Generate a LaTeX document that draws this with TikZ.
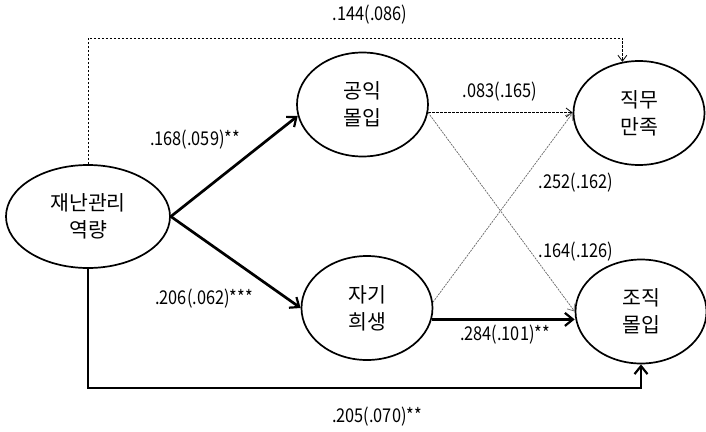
\documentclass[tikz,border=0pt]{standalone}
\usepackage{fontspec}
\setmainfont{Noto Sans CJK KR}
\newfontfamily\kr{Noto Sans CJK KR}
\newfontfamily\krnum[FakeStretch=0.86]{Noto Sans CJK KR}
\usetikzlibrary{shapes.geometric,arrows.meta}
\begin{document}
\begin{tikzpicture}[x=1pt,y=-1pt,
  latent/.style={draw,line width=1.7pt,ellipse,inner sep=0pt,minimum width=131pt,minimum height=104pt,align=center,font=\kr\fontsize{20.5}{27}\selectfont},
  coef/.style={inner sep=0pt,font=\krnum\fontsize{19}{22}\selectfont},
  strong/.style={line width=2.7pt,-{Straight Barb[length=8pt,width=13pt,line width=2.2pt]}},
  weakdash/.style={line width=0.8pt,dash pattern=on 2.5pt off 1.5pt,-{Straight Barb[length=6pt,width=9pt,line width=0.8pt]}},
  weakdiag/.style={line width=0.7pt,black!60,dash pattern=on 2pt off 1pt,-{Straight Barb[length=6pt,width=9pt,line width=0.7pt]}}]
\useasboundingbox (0,0) rectangle (706,431);
\node[latent,minimum width=164pt,minimum height=103pt] (A) at (88,216.5) {재난관리\\역량};
\node[latent] (B) at (362.5,104.5) {공익\\몰입};
\node[latent] (C) at (367,308) {자기\\희생};
\node[latent] (D) at (639,113) {직무\\만족};
\node[latent] (E) at (641,311.5) {조직\\몰입};
\coordinate (top) at (0,38);
\coordinate (bot) at (0,388);
% connectors
\draw[weakdash] (A.north) -- (A.north |- top) -| (D.108);
\draw[strong] (A.east) -- (B.190);
\draw[strong] (A.east) -- (C.west);
\draw[weakdash] (B.-7) -- (B.-7 -| D.west);
\draw[weakdiag] (B.-7) -- (E.west);
\draw[weakdiag] (C.5) -- (D.west);
\draw[strong] (C.-10) -- (C.-10 -| E.west);
\draw[strong] (A.south) -- (A.south |- bot) -| (E.south);
% labels
\node[coef] (l1) at (370,15) {.144(.086)};
\node[coef] (l2) at (195,140) {.168(.059)**};
\node[coef] (l3) at (204,299) {.206(.062)***};
\node[coef] (l4) at (500,92) {.083(.165)};
\node[coef] (l5) at (576,183) {.252(.162)};
\node[coef] (l6) at (576,252) {.164(.126)};
\node[coef] (l7) at (505,335) {.284(.101)**};
\node[coef] (l8) at (377,417) {.205(.070)**};
\end{tikzpicture}
\end{document}
